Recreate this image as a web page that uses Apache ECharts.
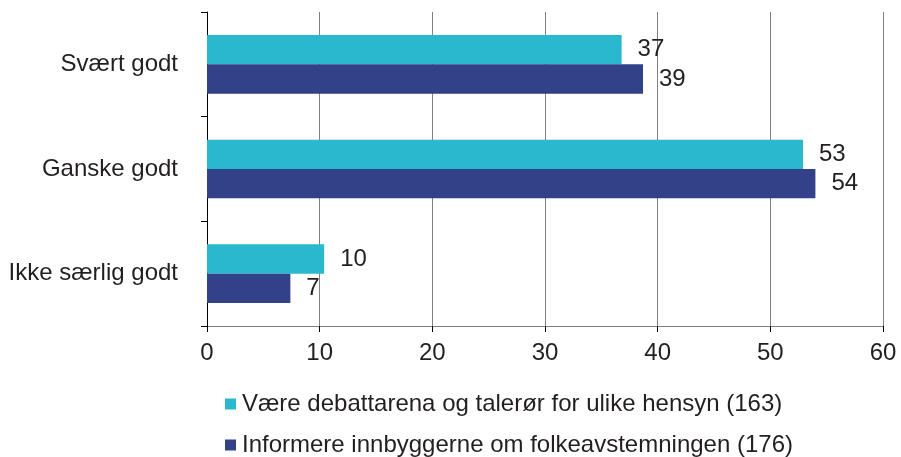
<!DOCTYPE html>
<html>
<head>
<meta charset="utf-8">
<title>chart</title>
<style>
  html, body { margin: 0; padding: 0; background: #fff; }
  #graph { width: 901px; height: 457px; }
</style>
</head>
<body>
<div id="graph"></div>
<script src="https://cdn.jsdelivr.net/npm/echarts@6/dist/echarts.min.js"></script>
<script>
const categories = ['Svært godt', 'Ganske godt', 'Ikke særlig godt'];
const seriesNames = [
  'Være debattarena og talerør for ulike hensyn (163)',
  'Informere innbyggerne om folkeavstemningen (176)'
];
const debattValues = [36.8, 52.9, 10.4];
const informereValues = [38.7, 54.0, 7.4];
const xTicks = [0, 10, 20, 30, 40, 50, 60];

const font = 'Liberation Sans, Arial, sans-serif';
const textColor = '#231f20';

let chart = echarts.init(document.getElementById('graph'));

function barSeries(name, data, color) {
  return {
    name: name,
    type: 'bar',
    data: data,
    barGap: '0%',
    barCategoryGap: '44%',
    itemStyle: { color: color },
    label: {
      show: true,
      position: 'right',
      distance: 16,
      fontFamily: font,
      fontSize: 24,
      color: textColor,
      formatter: p => Math.round(p.value)
    }
  };
}

chart.setOption({
  animation: false,
  grid: { left: 207, right: 18, top: 12, bottom: 131 },
  legend: {
    orient: 'vertical',
    left: 225,
    top: 392,
    padding: 0,
    itemWidth: 11,
    itemHeight: 11,
    itemGap: 17,
    icon: 'rect',
    textStyle: { fontFamily: font, fontSize: 24, color: textColor, padding: [0, 0, 0, 1] },
    data: seriesNames
  },
  xAxis: {
    type: 'value',
    min: xTicks[0],
    max: xTicks[xTicks.length - 1],
    interval: 10,
    axisLine: { show: true, lineStyle: { color: '#808080', width: 1 } },
    axisTick: { show: true, length: 6, lineStyle: { color: '#000' } },
    axisLabel: { fontFamily: font, fontSize: 24, color: textColor, margin: 15 },
    splitLine: { show: true, lineStyle: { color: '#808080', width: 1 } }
  },
  yAxis: {
    type: 'category',
    inverse: true,
    data: categories,
    axisLine: { show: true, lineStyle: { color: '#000', width: 1 } },
    axisTick: { show: true, length: 6, lineStyle: { color: '#000' } },
    axisLabel: { fontFamily: font, fontSize: 24, color: textColor, margin: 29 }
  },
  series: [
    barSeries(seriesNames[0], debattValues, '#2ab8ce'),
    barSeries(seriesNames[1], informereValues, '#334189')
  ]
});
</script>
</body>
</html>
